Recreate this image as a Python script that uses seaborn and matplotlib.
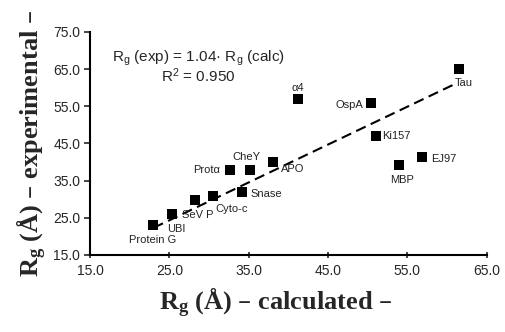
import matplotlib
matplotlib.use("Agg")
import matplotlib.pyplot as plt
import seaborn as sns
import pandas as pd

proteins = ["Protein G", "UBI", "SeV P", "Cyto-c", "Snase", "Prot\u03b1", "CheY", "APO",
            "\u03b14", "OspA", "Ki157", "MBP", "EJ97", "Tau"]
rg_calc = [22.9, 25.3, 28.2, 30.5, 34.2, 32.6, 35.1, 38.0, 41.2, 50.4, 51.0, 54.0, 56.8, 61.5]
rg_exp = [23.1, 26.0, 29.7, 30.9, 32.0, 37.9, 37.9, 40.0, 56.9, 56.0, 47.0, 39.3, 41.3, 65.0]
fit_x = [23.0, 61.3]
fit_y = [22.3, 61.3]
ticks = [15.0, 25.0, 35.0, 45.0, 55.0, 65.0, 75.0]

# label offsets in pixels (dx, dy, ha, va)
label_pos = {
    "Protein G": (0, -15, "center", "center"),
    "UBI": (-5, -15, "left", "center"),
    "SeV P": (-13, -15, "left", "center"),
    "Cyto-c": (2, -13, "left", "center"),
    "Snase": (8, -2, "left", "center"),
    "Prot\u03b1": (-10, 0, "right", "center"),
    "CheY": (-3, 13, "center", "center"),
    "APO": (8, -7, "left", "center"),
    "\u03b14": (0, 11, "center", "center"),
    "OspA": (-8, -2, "right", "center"),
    "Ki157": (6, 0, "left", "center"),
    "MBP": (3, -15, "center", "center"),
    "EJ97": (9, -2, "left", "center"),
    "Tau": (5, -14, "center", "center"),
}

sns.set_style("ticks")
plt.rcParams["font.family"] = ["Liberation Sans", "DejaVu Sans"]
plt.rcParams["mathtext.default"] = "regular"

df = pd.DataFrame({"protein": proteins, "calc": rg_calc, "exp": rg_exp})

fig = plt.figure(figsize=(5.06, 3.32), dpi=100)
ax = fig.add_axes([0.178, 0.232, 0.784, 0.672])

sns.lineplot(x=fit_x, y=fit_y, ax=ax, color="black", lw=1.5, dashes=False)
ax.lines[0].set_dashes([5, 2.7])
sns.scatterplot(data=df, x="calc", y="exp", ax=ax, marker="s", s=42, color="black",
                edgecolor="black", linewidth=0, zorder=3)

for name, x, y in zip(proteins, rg_calc, rg_exp):
    dx, dy, ha, va = label_pos[name]
    ax.annotate(name, (x, y), xytext=(dx, dy), textcoords="offset pixels",
                ha=ha, va=va, fontsize=8, color="#222222")

ax.text(28.6, 68.0, "R$_g$ (exp) = 1.04\u00b7 R$_g$ (calc)", ha="center", va="center", fontsize=11)
ax.text(28.6, 63.2, "R$^2$ = 0.950", ha="center", va="center", fontsize=11)

ax.set_xlim(15, 65)
ax.set_ylim(15, 75)
ax.set_xticks(ticks[:-1])
ax.set_yticks(ticks)
ax.set_xticklabels([f"{t:.1f}" for t in ticks[:-1]], fontsize=10)
ax.set_yticklabels([f"{t:.1f}" for t in ticks], fontsize=10)
ax.tick_params(axis="x", direction="inout", length=5, width=1.2, pad=4)
ax.tick_params(axis="y", direction="out", length=4, width=1.2, pad=3)
for s in ["left", "bottom"]:
    ax.spines[s].set_linewidth(1.5)
    ax.spines[s].set_color("black")
sns.despine(ax=ax)

ax.set_xlabel("R$_g$ (\u00c5) \u2013 calculated \u2013", fontsize=19, fontweight="bold",
              family="Liberation Serif", labelpad=6)
ax.xaxis.label.set_x(0.468)
ax.set_ylabel("R$_g$ (\u00c5) \u2013 experimental \u2013", fontsize=19, fontweight="bold",
              family="Liberation Serif", labelpad=3)

fig.savefig("out.png", dpi=100)
